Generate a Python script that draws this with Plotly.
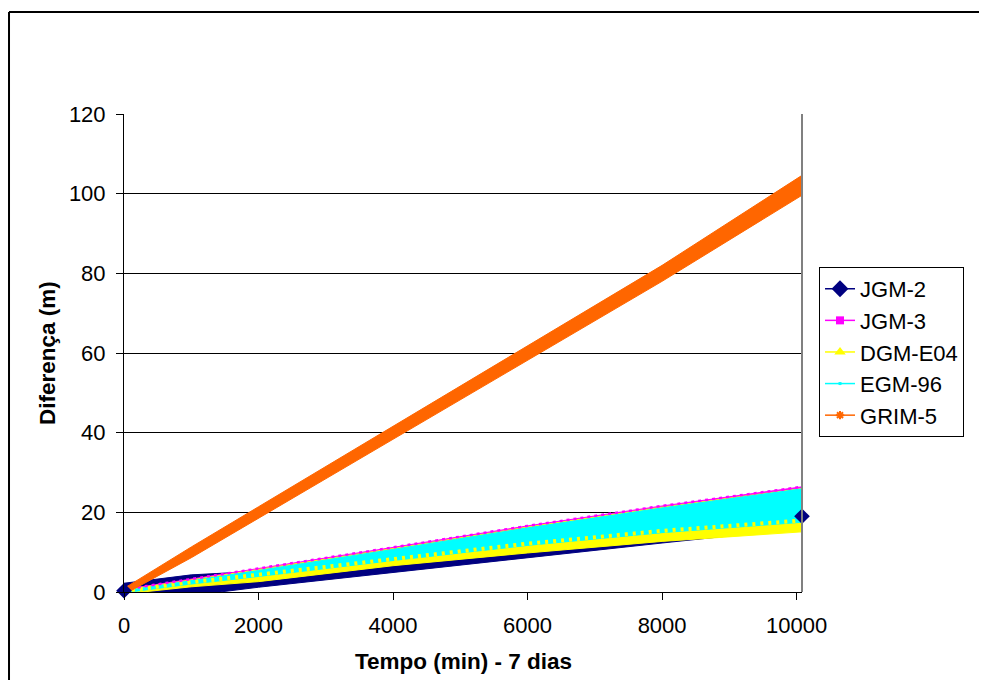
import plotly.graph_objects as go

# ---------------- data ----------------
SERIES = ["JGM-2", "JGM-3", "DGM-E04", "EGM-96", "GRIM-5"]
COLORS = ["#000080", "#FF00FF", "#FFFF00", "#00FFFF", "#FF6600"]

# time (min) at which the band envelopes were read
X_ENV = [0, 1000, 2000, 4000, 6000, 8000, 10080]

# lower / upper envelope of each oscillating series (m)
JGM2_LO = [-1.5, -0.9, 1.2, 4.8, 8.6, 12.3, 16.0]
JGM2_HI = [2.2, 4.3, 5.2, 9.5, 14.0, 18.5, 21.0]
JGM3_LO = [-0.3, 1.5, 3.2, 7.0, 10.5, 13.8, 16.5]
JGM3_HI = [0.6, 3.3, 5.9, 11.2, 16.6, 21.6, 26.4]
DGM_LO = [-0.5, 1.3, 2.6, 6.6, 9.8, 12.7, 15.1]
DGM_HI = [0.4, 3.0, 5.6, 10.9, 16.3, 21.3, 26.0]
EGM_LO = [-0.2, 2.0, 3.9, 7.9, 11.7, 14.9, 17.5]
EGM_HI = [0.3, 2.8, 5.4, 10.7, 16.1, 21.1, 25.9]
GRIM_LO = [-0.6, 8.6, 18.5, 38.4, 58.2, 78.0, 99.6]
GRIM_HI = [0.9, 11.3, 21.4, 41.6, 61.9, 82.0, 104.6]

# first / last plotted JGM-2 points
JGM2_END_X = [0, 10080]
JGM2_END_Y = [0.3, 19.0]

X_TICKS = [0, 2000, 4000, 6000, 8000, 10000]
Y_TICKS = [0, 20, 40, 60, 80, 100, 120]

X_TITLE = "Tempo (min) - 7 dias"
Y_TITLE = "Diferença (m)"

FONT = "Liberation Sans, Arial, sans-serif"

# ---------------- figure ----------------
fig = go.Figure()

bands = [
    (JGM2_LO, JGM2_HI, COLORS[0]),
    (JGM3_LO, JGM3_HI, COLORS[1]),
    (DGM_LO, DGM_HI, COLORS[2]),
    (EGM_LO, EGM_HI, COLORS[3]),
    (GRIM_LO, GRIM_HI, COLORS[4]),
]

for i, (lo, hi, col) in enumerate(bands):
    fig.add_trace(go.Scatter(
        x=X_ENV + X_ENV[::-1], y=hi + lo[::-1],
        fill="toself", fillcolor=col, mode="lines",
        line=dict(color=col, width=1),
        showlegend=False, hoverinfo="skip"))
    if i == 3:
        # yellow triangle "comb" at the lower edge of the cyan band
        fig.add_trace(go.Scatter(
            x=X_ENV, y=[v + 0.45 for v in EGM_LO], mode="lines",
            line=dict(color=COLORS[2], width=4, dash="3px,5px"),
            showlegend=False, hoverinfo="skip"))
        # magenta squares peeking along the top edge
        fig.add_trace(go.Scatter(
            x=X_ENV, y=JGM3_HI, mode="lines",
            line=dict(color=COLORS[1], width=2.5, dash="3px,4px"),
            showlegend=False, hoverinfo="skip"))

# JGM-2 end markers
fig.add_trace(go.Scatter(
    x=JGM2_END_X, y=JGM2_END_Y, mode="markers",
    marker=dict(symbol="diamond", size=12, color=COLORS[0]),
    cliponaxis=False, showlegend=False, hoverinfo="skip"))

# legend entries
legend_markers = [
    dict(symbol="diamond", size=13, color=COLORS[0]),
    dict(symbol="square", size=8, color=COLORS[1]),
    dict(symbol="triangle-up", size=10, color=COLORS[2]),
    dict(symbol="square", size=3, color=COLORS[3]),
    dict(symbol="asterisk-open", size=7, color=COLORS[4],
         line=dict(color=COLORS[4], width=2)),
]
for name, col, mk in zip(SERIES, COLORS, legend_markers):
    fig.add_trace(go.Scatter(
        x=[None], y=[None], name=name, mode="lines+markers",
        line=dict(color=col, width=1.5), marker=mk, legendgroup=name))

# the page body adds an 8px offset, so margins are reduced by 8px and the
# figure is sized so the page does not scroll
fig.update_layout(
    width=971, height=672,
    margin=dict(l=116, r=177, t=106, b=88),
    paper_bgcolor="white", plot_bgcolor="white",
    font=dict(family=FONT, size=22.5, color="black"),
    showlegend=True,
    legend=dict(x=1.0251, y=0.680, xanchor="left", yanchor="top",
                bordercolor="black", borderwidth=1, bgcolor="white",
                font=dict(family=FONT, size=22, color="black"),
                tracegroupgap=0, itemsizing="trace"),
    xaxis=dict(range=[0, 10080], tickvals=X_TICKS, ticktext=[str(v) for v in X_TICKS],
               showgrid=False, zeroline=False, showline=True, linecolor="black",
               linewidth=1, ticks="outside", ticklen=7, tickcolor="black",
               ticklabelstandoff=7, tickfont=dict(size=22)),
    yaxis=dict(range=[0, 120], tickvals=Y_TICKS, ticktext=[str(v) for v in Y_TICKS],
               showgrid=True, gridcolor="black", gridwidth=1, zeroline=False,
               showline=True, linecolor="black", linewidth=1,
               ticks="outside", ticklen=7, tickcolor="black",
               ticklabelstandoff=6, tickfont=dict(size=22)),
    annotations=[
        dict(text="<b>" + X_TITLE + "</b>", xref="paper", yref="paper",
             x=0.5, y=-0.1464, xanchor="center", yanchor="middle",
             showarrow=False, font=dict(family=FONT, size=22.5)),
        dict(text="<b>" + Y_TITLE + "</b>", xref="paper", yref="paper",
             x=-0.1136, y=0.5, xanchor="center", yanchor="middle",
             textangle=-90, showarrow=False, font=dict(family=FONT, size=22.5)),
    ],
    shapes=[
        # plot-area right border (grey)
        dict(type="line", xref="paper", yref="paper", x0=1, x1=1, y0=0, y1=1,
             line=dict(color="#808080", width=2)),
        # outer chart frame
        dict(type="line", xref="paper", yref="paper", x0=-0.1696, x1=-0.1696,
             y0=-0.3, y1=1.2134, line=dict(color="black", width=2)),
        dict(type="line", xref="paper", yref="paper", x0=-0.1696, x1=1.4,
             y0=1.2134, y1=1.2134, line=dict(color="black", width=2)),
    ],
)

fig.write_html("out.html")
